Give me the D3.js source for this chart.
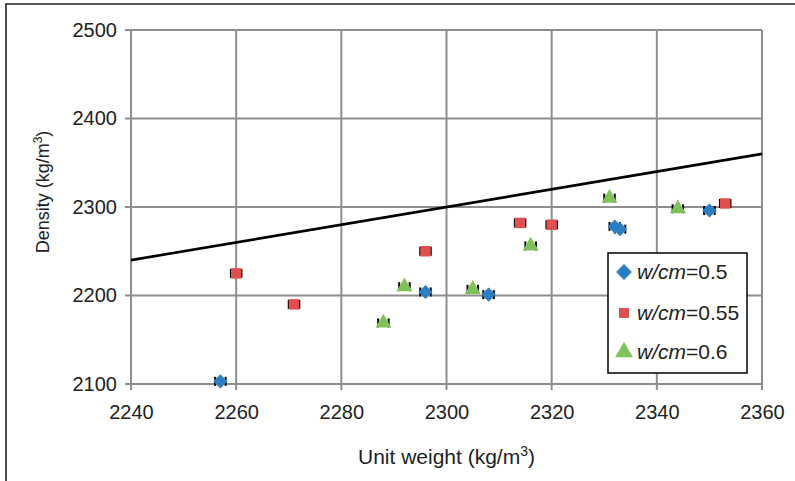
<!DOCTYPE html>
<html>
<head>
<meta charset="utf-8">
<script src="https://cdn.jsdelivr.net/npm/d3@7"></script>
<style>
  body { margin: 0; background: #fff; }
  text { font-family: "Liberation Sans", Arial, sans-serif; fill: #222; }
</style>
</head>
<body>
<svg id="chart" width="795" height="481"></svg>
<script>
// data
var xTicks = [2240, 2260, 2280, 2300, 2320, 2340, 2360];
var yTicks = [2100, 2200, 2300, 2400, 2500];

var seriesNames = ['0.5', '0.55', '0.6'];

var unitW05 = [2257, 2296, 2308, 2332, 2333, 2350];
var dens05  = [2103, 2204, 2201, 2278, 2275, 2296];

var unitW055 = [2260, 2271, 2296, 2314, 2320, 2353];
var dens055  = [2225, 2190, 2250, 2282, 2280, 2304];

var unitW06 = [2288, 2292, 2305, 2316, 2331, 2344];
var dens06  = [2169, 2210, 2207, 2256, 2310, 2298];

var errX = 1; // small horizontal error bars

// equality line
var lineX = [2240, 2360];
var lineY = [2240, 2360];

var svg = d3.select("#chart"),
    margin = {top: 30, right: 33, bottom: 97, left: 131},
    width = +svg.attr("width") - margin.left - margin.right,
    height = +svg.attr("height") - margin.top - margin.bottom;

// outer frame (top + left only)
svg.append("path")
    .attr("d", "M6,481V4H795")
    .attr("fill", "none")
    .attr("stroke", "#222")
    .attr("stroke-width", 1.6);

var g = svg.append("g").attr("transform", "translate(" + margin.left + "," + margin.top + ")");

var x = d3.scaleLinear().domain([2240, 2360]).range([0, width]);
var y = d3.scaleLinear().domain([2100, 2500]).range([height, 0]);

var grey = "#8e8e8e";

// grid
g.selectAll(".vgrid").data(xTicks).enter().append("line")
    .attr("x1", function(d) { return x(d); }).attr("x2", function(d) { return x(d); })
    .attr("y1", 0).attr("y2", height + 6)
    .attr("stroke", grey).attr("stroke-width", 2);
g.selectAll(".hgrid").data(yTicks).enter().append("line")
    .attr("x1", -6).attr("x2", width)
    .attr("y1", function(d) { return y(d); }).attr("y2", function(d) { return y(d); })
    .attr("stroke", grey).attr("stroke-width", 2);

// tick labels
g.append("g")
    .attr("transform", "translate(0," + height + ")")
    .call(d3.axisBottom(x).tickValues(xTicks).tickSize(0).tickPadding(21).tickFormat(d3.format("d")))
    .call(function(a) { a.select(".domain").remove(); })
    .selectAll("text").style("font-size", "20px").attr("fill", "#222");

g.append("g")
    .call(d3.axisLeft(y).tickValues(yTicks).tickSize(0).tickPadding(14).tickFormat(d3.format("d")))
    .call(function(a) { a.select(".domain").remove(); })
    .selectAll("text").style("font-size", "20px").attr("fill", "#222");

// axis titles
var xt = svg.append("text")
    .attr("x", margin.left + width / 2)
    .attr("y", 464)
    .attr("text-anchor", "middle")
    .style("font-size", "21px");
xt.append("tspan").text("Unit weight (kg/m");
xt.append("tspan").attr("dy", -8).style("font-size", "14px").text("3");
xt.append("tspan").attr("dy", 8).text(")");

var yt = svg.append("text")
    .attr("transform", "translate(49,192) rotate(-90)")
    .attr("text-anchor", "middle")
    .style("font-size", "18px");
yt.append("tspan").text("Density (kg/m");
yt.append("tspan").attr("dy", -7).style("font-size", "12px").text("3");
yt.append("tspan").attr("dy", 7).text(")");

// equality line
g.append("line")
    .attr("x1", x(lineX[0])).attr("y1", y(lineY[0]))
    .attr("x2", x(lineX[1])).attr("y2", y(lineY[1]))
    .attr("stroke", "#000").attr("stroke-width", 2.6);

var series = [
  {name: seriesNames[0], xs: unitW05, ys: dens05, color: "#2b7ec3", shape: d3.symbolDiamond, size: 100, rot: 45},
  {name: seriesNames[1], xs: unitW055, ys: dens055, color: "#e05050", shape: d3.symbolSquare, size: 110, rot: 0},
  {name: seriesNames[2], xs: unitW06, ys: dens06, color: "#80c25a", shape: d3.symbolTriangle, size: 110, rot: 0}
];

// diamond shape as rotated square looks closer to the original
function markerPath(s, k) {
  var sz = s.size * (k || 1);
  if (s.shape === d3.symbolDiamond) return d3.symbol().type(d3.symbolSquare).size(sz)();
  return d3.symbol().type(s.shape).size(sz)();
}

series.forEach(function(s) {
  var pts = s.xs.map(function(v, i) { return [v, s.ys[i]]; });
  var eg = g.append("g");
  pts.forEach(function(p) {
    var cy = y(p[1]);
    var x0 = x(p[0] - errX), x1 = x(p[0] + errX);
    eg.append("line").attr("x1", x0).attr("x2", x1).attr("y1", cy).attr("y2", cy)
      .attr("stroke", "#000").attr("stroke-width", 1.2);
    [x0, x1].forEach(function(cx) {
      eg.append("line").attr("x1", cx).attr("x2", cx).attr("y1", cy - 4.5).attr("y2", cy + 4.5)
        .attr("stroke", "#000").attr("stroke-width", 2);
    });
  });
  g.append("g").selectAll("path").data(pts).enter().append("path")
    .attr("d", markerPath(s))
    .attr("transform", function(d) { return "translate(" + x(d[0]) + "," + y(d[1]) + ") rotate(" + s.rot + ")"; })
    .attr("fill", s.color);
});

// legend
var lg = svg.append("g").attr("transform", "translate(608,253)");
lg.append("rect").attr("width", 139).attr("height", 120)
  .attr("fill", "#fff").attr("stroke", "#111").attr("stroke-width", 1.6);
var rowY = [19, 60, 99];
series.forEach(function(s, i) {
  lg.append("path")
    .attr("d", markerPath(s, i === 1 ? 0.9 : 1.25))
    .attr("transform", "translate(16," + rowY[i] + ") rotate(" + s.rot + ")")
    .attr("fill", s.color);
  var t = lg.append("text").attr("x", 29).attr("y", rowY[i] + 7).style("font-size", "21px");
  t.append("tspan").style("font-style", "italic").text("w/cm");
  t.append("tspan").text("=" + s.name);
});
</script>
</body>
</html>
